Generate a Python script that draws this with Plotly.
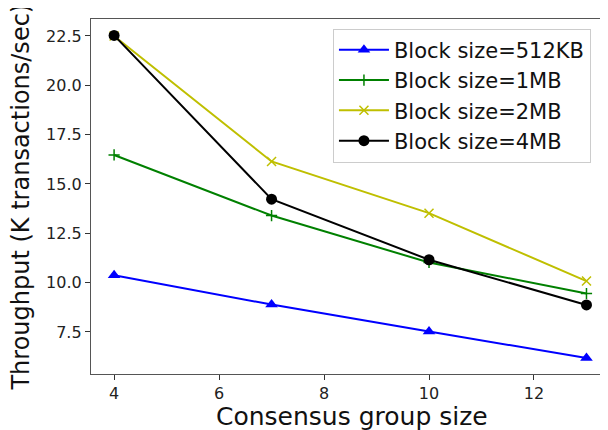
import plotly.graph_objects as go

group_sizes = [4, 7, 10, 13]
tput_512kb = [10.37, 8.89, 7.52, 6.18]
tput_1mb = [16.47, 13.40, 11.02, 9.45]
tput_2mb = [22.50, 16.14, 13.52, 10.08]
tput_4mb = [22.53, 14.23, 11.16, 8.87]

x_title = "Consensus group size"
y_title = "Throughput (K transactions/sec)"

series = [
    ("Block size=512KB", tput_512kb, "#0000ff", "triangle-up", 11, 0),
    ("Block size=1MB", tput_1mb, "#008000", "cross-thin-open", 8, 1.5),
    ("Block size=2MB", tput_2mb, "#bfbf00", "x-thin-open", 9, 1.5),
    ("Block size=4MB", tput_4mb, "#000000", "circle", 11, 0),
]

FONT = "DejaVu Sans"
fig = go.Figure()
for name, ys, col, sym, sz, lw in series:
    fig.add_trace(go.Scatter(
        x=group_sizes, y=ys, name=name, mode="lines+markers",
        line=dict(color=col, width=2),
        marker=dict(symbol=sym, size=sz, color=col, line=dict(color=col, width=lw)),
    ))

# page body has an 8px default margin, so margins are offset by it
fig.update_layout(
    width=608, height=430,
    margin=dict(l=83, r=8, t=11, b=64, autoexpand=False),
    paper_bgcolor="white", plot_bgcolor="white",
    font=dict(family=FONT, color="#222"),
    showlegend=True,
    legend=dict(
        x=0.468, y=0.973, xanchor="left", yanchor="top",
        bgcolor="white", bordercolor="#cccccc", borderwidth=1,
        font=dict(family=FONT, size=21, color="#111"),
        itemwidth=50, tracegroupgap=0,
    ),
    xaxis=dict(
        range=[3.56, 13.41], tickvals=[4, 6, 8, 10, 12],
        ticks="outside", ticklen=5, tickcolor="#333",
        tickfont=dict(family=FONT, size=16, color="#222"),
        showgrid=False, zeroline=False, automargin=False,
        showline=True, linecolor="#555", linewidth=1.3, mirror=True,
    ),
    yaxis=dict(
        range=[5.37, 23.36], tickvals=[7.5, 10.0, 12.5, 15.0, 17.5, 20.0, 22.5],
        tickformat=".1f",
        ticks="outside", ticklen=5, tickcolor="#333",
        tickfont=dict(family=FONT, size=16, color="#222"),
        showgrid=False, zeroline=False, automargin=False,
        showline=True, linecolor="#555", linewidth=1.3,
    ),
    annotations=[
        dict(text=x_title, xref="paper", yref="paper", x=0.505, y=-0.12,
             xanchor="center", yanchor="middle", showarrow=False,
             font=dict(family=FONT, size=25, color="#111")),
        dict(text=y_title, xref="paper", yref="paper", x=-0.135, y=0.4976,
             xanchor="center", yanchor="middle", showarrow=False, textangle=-90,
             font=dict(family=FONT, size=24, color="#111")),
    ],
)

fig.write_html("out.html")
